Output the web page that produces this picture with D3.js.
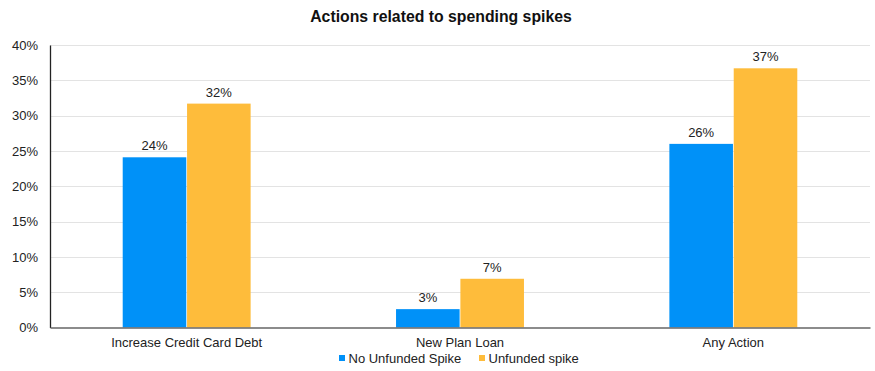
<!DOCTYPE html>
<html>
<head>
<meta charset="utf-8">
<script src="https://cdn.jsdelivr.net/npm/d3@7"></script>
<style>
  body { margin: 0; background: #fff; }
  svg { font-family: "Liberation Sans", Arial, sans-serif; display: block; }
</style>
</head>
<body>
<div id="chart"></div>
<script>
const categories = ["Increase Credit Card Debt", "New Plan Loan", "Any Action"];
const seriesNames = ["No Unfunded Spike", "Unfunded spike"];
const noUnfunded = [24.1, 2.6, 26.0];
const unfunded = [31.7, 6.9, 36.7];
const yTicks = [0, 5, 10, 15, 20, 25, 30, 35, 40];
const colors = ["#0091F8", "#FEBC3B"];

const width = 875, height = 371;
const margin = { top: 45, right: 5, bottom: 43.5, left: 50 };

const svg = d3.select("#chart").append("svg")
  .attr("width", width).attr("height", height);

const x0 = d3.scaleBand()
  .domain(categories)
  .range([margin.left, width - margin.right])
  .paddingInner(0.532)
  .paddingOuter(0.266);
const x1 = d3.scaleBand()
  .domain(seriesNames)
  .range([0, x0.bandwidth()])
  .paddingInner(0.012);
const y = d3.scaleLinear()
  .domain([0, 40])
  .range([height - margin.bottom, margin.top]);

// title
svg.append("text")
  .attr("x", 441).attr("y", 22)
  .attr("text-anchor", "middle")
  .attr("font-size", 15.8).attr("font-weight", "bold")
  .attr("fill", "#111")
  .text("Actions related to spending spikes");

// grid
svg.append("g")
  .selectAll("line")
  .data(yTicks.filter((d) => d > 0))
  .join("line")
  .attr("x1", margin.left).attr("x2", width - margin.right)
  .attr("y1", (d) => Math.round(y(d)) + 0.5).attr("y2", (d) => Math.round(y(d)) + 0.5)
  .attr("stroke", "#e3e3e3").attr("stroke-width", 1);

// y axis
const gY = svg.append("g")
  .attr("transform", `translate(${margin.left},0)`)
  .call(d3.axisLeft(y).tickValues(yTicks).tickSize(0).tickPadding(12)
    .tickFormat((d) => d + "%"));
gY.select(".domain").attr("stroke", "#222").attr("stroke-width", 1.3);
gY.selectAll("text").attr("font-size", 13).attr("fill", "#222")
  .attr("font-family", "Liberation Sans, Arial, sans-serif");

// bars
const data = categories.map((c, i) => ({
  category: c,
  values: [
    { series: seriesNames[0], value: noUnfunded[i] },
    { series: seriesNames[1], value: unfunded[i] },
  ],
}));

const gGroup = svg.append("g")
  .selectAll("g")
  .data(data)
  .join("g")
  .attr("transform", (d) => `translate(${x0(d.category)},0)`);

gGroup.selectAll("rect")
  .data((d) => d.values)
  .join("rect")
  .attr("x", (d) => x1(d.series))
  .attr("width", x1.bandwidth())
  .attr("y", (d) => y(d.value))
  .attr("height", (d) => y(0) - y(d.value))
  .attr("fill", (d, i) => colors[i]);

gGroup.selectAll(".value-label")
  .data((d) => d.values)
  .join("text")
  .attr("class", "value-label")
  .attr("x", (d) => x1(d.series) + x1.bandwidth() / 2)
  .attr("y", (d) => y(d.value) - 7)
  .attr("text-anchor", "middle")
  .attr("font-size", 13).attr("fill", "#222")
  .text((d) => Math.round(d.value) + "%");

// x axis
const gX = svg.append("g")
  .attr("transform", `translate(0,${y(0)})`)
  .call(d3.axisBottom(x0).tickSize(0).tickPadding(10));
gX.select(".domain").attr("stroke", "#666").attr("stroke-width", 1.5);
gX.selectAll("text").attr("font-size", 13).attr("fill", "#222")
  .attr("font-family", "Liberation Sans, Arial, sans-serif");

// legend
const legendX = [339, 479];
const legend = svg.append("g")
  .selectAll("g")
  .data(seriesNames)
  .join("g")
  .attr("transform", (d, i) => `translate(${legendX[i]},355)`);
legend.append("rect")
  .attr("width", 6).attr("height", 6)
  .attr("fill", (d, i) => colors[i]);
legend.append("text")
  .attr("x", 9.5).attr("y", 7.5)
  .attr("font-size", 13).attr("fill", "#222")
  .text((d) => d);
</script>
</body>
</html>
